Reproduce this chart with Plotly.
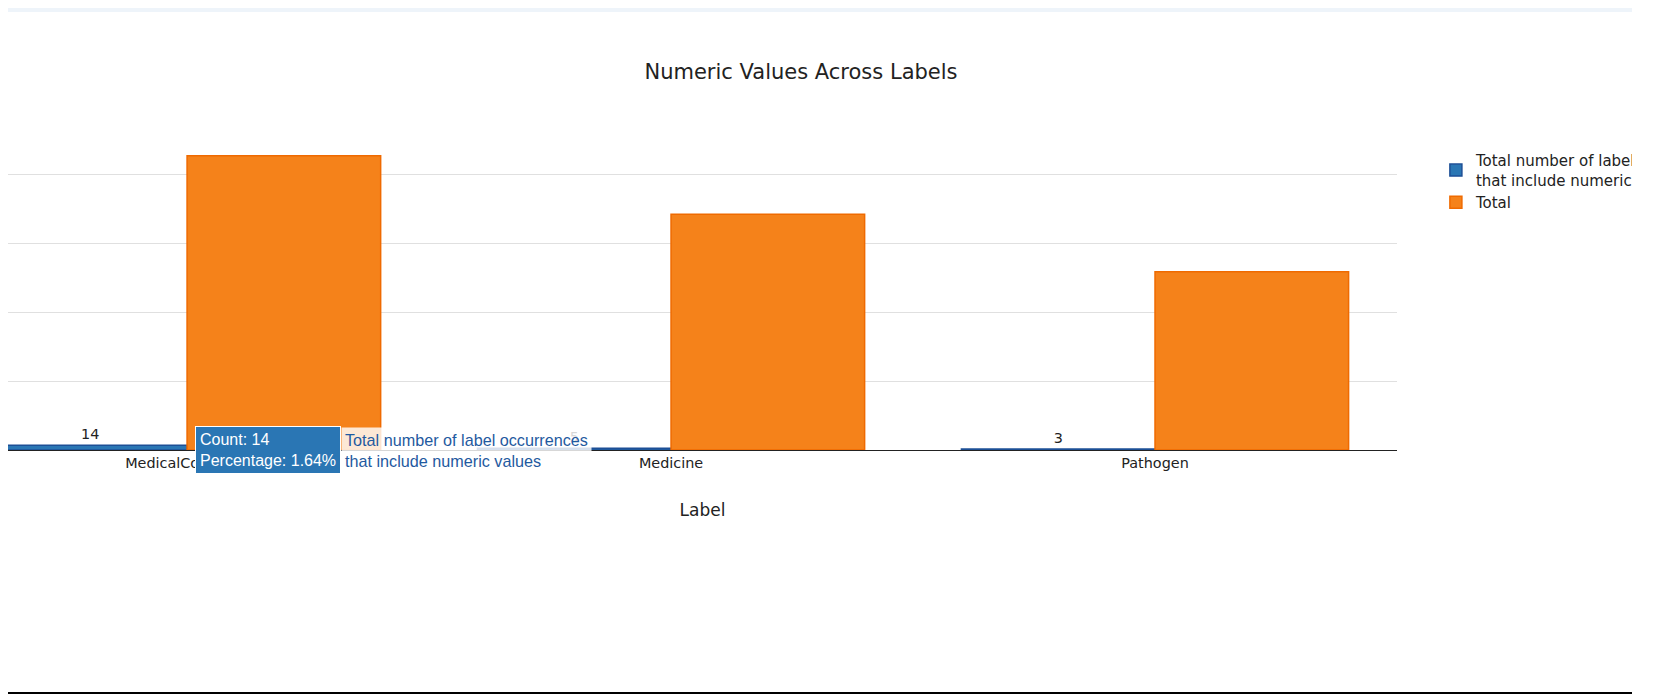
import plotly.graph_objects as go

labels = ["MedicalCondition", "Medicine", "Pathogen"]
numeric_counts = [14, 5, 3]
totals = [854, 684, 517]

series_numeric_name = "Total number of label occurrences<br>that include numeric values"
series_total_name = "Total"

BLUE = "#2a76b4"
ORANGE = "#f5821a"

fig = go.Figure()
fig.add_trace(go.Bar(
    x=labels, y=numeric_counts, name=series_numeric_name,
    marker=dict(color=BLUE, line=dict(color="#1c4f96", width=1.5)),
    text=numeric_counts, textposition="outside",
    textfont=dict(size=14.4, color="#222"),
    cliponaxis=False,
))
fig.add_trace(go.Bar(
    x=labels, y=totals, name=series_total_name,
    marker=dict(color=ORANGE, line=dict(color="#ef6a00", width=1.5)),
))

W, H = 1624, 688
PLOT_R = 1389   # right edge of plot area in figure px
PLOT_T, PLOT_B = 133, 442
plot_h = PLOT_B - PLOT_T
ymax = max(totals) * 1.05

fig.update_layout(
    width=W, height=H,
    barmode="group", bargap=0.2,
    paper_bgcolor="white", plot_bgcolor="white",
    font=dict(family="DejaVu Sans", size=14.4, color="#222"),
    title=dict(text="Numeric Values Across Labels", x=0.4883, xanchor="center",
               y=1 - 64 / H, yanchor="middle", yref="container",
               font=dict(size=21, color="#222")),
    margin=dict(l=0, r=W - PLOT_R, t=PLOT_T, b=H - PLOT_B, autoexpand=False),
    legend=dict(x=1.028, y=0.99, font=dict(size=15)),
    showlegend=True,
)
fig.update_xaxes(range=[-0.370, 2.5], showline=True, linecolor="#222", linewidth=1,
                 title=dict(text="Label", font=dict(size=17), standoff=33), ticks="",
                 showgrid=False)
fig.update_yaxes(range=[0, ymax], dtick=200, showgrid=True, gridcolor="#e0e0e0",
                 showticklabels=False, zeroline=False)

# simulated hover label for the first blue bar
n0, t0 = numeric_counts[0], totals[0]
fig.add_annotation(
    x=labels[0], y=n0, xref="x", yref="y", xanchor="left", yanchor="middle",
    xshift=8, yshift=-5, showarrow=False, align="left",
    text=f"Count: {n0}<br>Percentage: {n0 / t0 * 100:.2f}%",
    font=dict(family="Liberation Sans", size=16, color="white"),
    bgcolor="#2a76b4", bordercolor="white", borderwidth=1, borderpad=4,
)
fig.add_annotation(
    x=labels[0], y=n0, xref="x", yref="y", xanchor="left", yanchor="middle",
    xshift=154, yshift=-5, showarrow=False, align="left",
    text=series_numeric_name,
    font=dict(family="Liberation Sans", size=16.2, color="#1f5aa0"),
    bgcolor="rgba(255,255,255,0.82)", borderpad=3,
)

# page decorations
fig.add_shape(type="rect", xref="paper", yref="paper",
              x0=0, x1=1.2, y0=1 + (PLOT_T - 4) / plot_h, y1=1 + PLOT_T / plot_h,
              fillcolor="#eef4fa", line_width=0, layer="below")
fig.add_shape(type="line", xref="paper", yref="paper",
              x0=0, x1=1.2, y0=-(685 - PLOT_B) / plot_h, y1=-(685 - PLOT_B) / plot_h,
              line=dict(color="black", width=2))

fig.write_html("out.html")
